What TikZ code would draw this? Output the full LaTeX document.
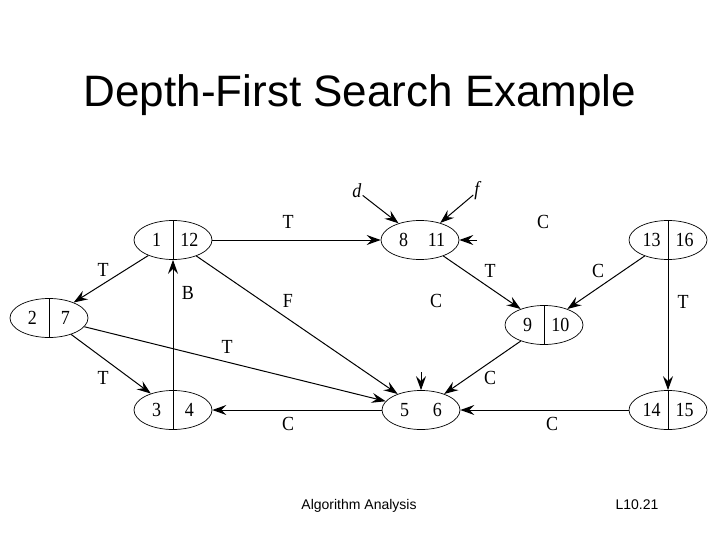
\documentclass[tikz,border=0pt]{standalone}
\usepackage{fontspec}
\setmainfont{Liberation Serif}
\newfontfamily\arialfont{Liberation Sans}
\newfontfamily\graphfont[FakeStretch=0.9]{Liberation Serif}
\usetikzlibrary{positioning, arrows.meta, shapes.geometric}
\newcommand{\twonum}[2]{\makebox[33pt]{#1}\makebox[33pt]{#2}}
\tikzset{
  % Vertex: discovery | finish time
  vtx/.style={
    ellipse, draw, line width=0.7pt,
    minimum width=78pt, minimum height=39pt,
    inner xsep=-6pt, inner ysep=0pt,
    font=\graphfont\fontsize{20pt}{22pt}\selectfont
  },
  % Divider inside a vertex
  bar/.style={line width=1pt},
  % Arrow style
  arr/.style={-{Stealth[length=14pt, width=10pt, inset=5pt]}, line width=1pt},
  % Edge type label
  lbl/.style={font=\graphfont\fontsize{20pt}{22pt}\selectfont, inner sep=1pt},
}

\begin{document}
\begin{tikzpicture}[x=1pt, y=-1pt]
  \useasboundingbox (0,0) rectangle (720,540);
  \fill[white] (0,0) rectangle (720,540);

  \node[font=\arialfont\fontsize{44pt}{52pt}\selectfont, anchor=base] (title) at (360,107) {Depth-First Search Example};

  % vertices
  \node[vtx] (v1)  at (173,240) {\twonum{1}{12}};
  \node[vtx] (v8)  at (420,240) {\twonum{8}{11}};
  \node[vtx] (v13) at (668,240) {\twonum{13}{16}};
  \node[vtx] (v2)  at (49,318)  {\twonum{2}{7}};
  \node[vtx] (v9)  at (544,325) {\twonum{9}{10}};
  \node[vtx] (v3)  at (173,410) {\twonum{3}{4}};
  \node[vtx] (v5)  at (421,410) {\twonum{5}{6}};
  \node[vtx] (v14) at (668,410) {\twonum{14}{15}};

  \foreach \v in {v1, v2, v3, v9, v13, v14}
    \draw[bar] (\v.north) -- (\v.south);

  % edges
  \draw[arr] (v1)  -- (v2);
  \draw[arr] (v2)  -- (v3);
  \draw[arr] (v2)  -- (v5);
  \draw[arr] (v3)  -- (v1);
  \draw[arr] (v1)  -- (v8);
  \draw[arr] (v1)  -- (v5);
  \draw[arr] (v8)  -- (v9);
  \draw[arr] (v13) -- (v9);
  \draw[arr] (v9)  -- (v5);
  \draw[arr] (v13) -- (v14);
  \draw[arr] (v14) -- (v5);
  \draw[arr] (v5)  -- (v3);

  % d and f pointers
  \node[lbl] (dlbl) at (357,191) {\textit{d}};
  \node[lbl] (flbl) at (478,191) {\textit{f}};
  \draw[arr] (dlbl) -- (v8);
  \draw[arr] (flbl) -- (v8);

  % loose arrow heads
  \coordinate (c8) at (477,240);
  \coordinate (c5) at (421,372);
  \draw[arr] (c8) -- (v8);
  \draw[arr] (c5) -- (v5);

  % edge labels
  \node[lbl] (t18)   at (288,222) {T};
  \node[lbl] (c8r)   at (543,222) {C};
  \node[lbl] (t12)   at (103,270) {T};
  \node[lbl] (b31)   at (188,293) {B};
  \node[lbl] (f15)   at (288,301) {F};
  \node[lbl] (c5t)   at (436,301) {C};
  \node[lbl] (t89)   at (490,271) {T};
  \node[lbl] (c139)  at (598,271) {C};
  \node[lbl] (t1314) at (683,302) {T};
  \node[lbl] (t25)   at (227,347) {T};
  \node[lbl] (t23)   at (103,378) {T};
  \node[lbl] (c95)   at (490,378) {C};
  \node[lbl] (c53)   at (288,424) {C};
  \node[lbl] (c145)  at (552,424) {C};

  % footer
  \node[font=\arialfont\fontsize{14pt}{16pt}\selectfont, anchor=base] (foot) at (359,509) {Algorithm Analysis};
  \node[font=\arialfont\fontsize{14pt}{16pt}\selectfont, anchor=base] (page) at (637,509) {L10.21};
\end{tikzpicture}
\end{document}
